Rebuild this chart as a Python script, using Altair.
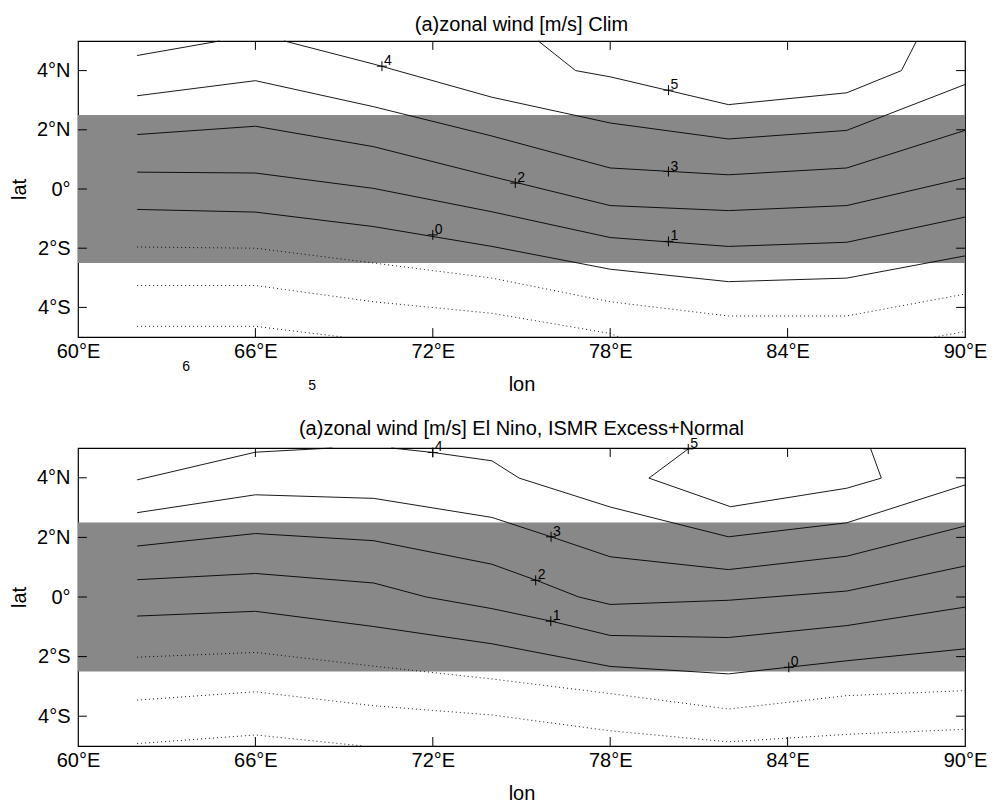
import altair as alt
import pandas as pd

FONT = "Liberation Sans"

# ---------------- data ----------------
lon_ticks = [60, 66, 72, 78, 84, 90]
lon_tick_labels = ["60°E", "66°E", "72°E", "78°E", "84°E", "90°E"]
lat_ticks = [-4, -2, 0, 2, 4]
lat_tick_labels = ["4°S", "2°S", "0°", "2°N", "4°N"]

band_lon = [60, 90]
band_lat = [-2.5, 2.5]

grid_lon = [62, 66, 70, 74, 78, 82, 86, 90]

# panel 1: Clim  (visible contour segments: id, style, lon list, lat list)
clim_contours = [
    ("c1a", "solid", [62, 64.79], [4.51, 5.0]),
    ("c1b", "solid", [66.98, 70, 74, 78, 82, 86, 90], [5.0, 4.22, 3.10, 2.23, 1.69, 1.98, 3.53]),
    ("c2", "solid", grid_lon, [3.15, 3.66, 2.78, 1.79, 0.71, 0.48, 0.71, 1.98]),
    ("c3", "solid", grid_lon, [1.84, 2.12, 1.43, 0.42, -0.56, -0.73, -0.56, 0.37]),
    ("c4", "solid", grid_lon, [0.57, 0.54, 0.02, -0.77, -1.64, -1.94, -1.80, -0.95]),
    ("c5", "solid", grid_lon, [-0.69, -0.78, -1.27, -1.94, -2.71, -3.13, -3.01, -2.26]),
    ("c6", "solid", [75.57, 76.83, 78, 82, 86, 87.85, 88.36],
     [5.0, 4.0, 3.79, 2.85, 3.25, 4.0, 5.0]),
    ("d1", "dotted", grid_lon, [-1.96, -2.00, -2.50, -3.01, -3.81, -4.29, -4.29, -3.55]),
    ("d2a", "dotted", [62, 66, 70, 74, 78, 78.3], [-3.26, -3.26, -3.81, -4.20, -4.88, -5.0]),
    ("d2b", "dotted", [88.97, 90], [-5.0, -4.82]),
    ("d3", "dotted", [62, 66, 68.95], [-4.64, -4.64, -5.0]),
]
clim_label_text = ["4", "5", "3", "2", "1", "0"]
clim_label_lon = [70.28, 79.97, 79.97, 74.79, 79.97, 72.0]
clim_label_lat = [4.15, 3.34, 0.59, 0.20, -1.77, -1.55]
clim_stray_text = ["6", "5"]
clim_stray_lon = [63.66, 67.92]
clim_stray_lat = [-6.02, -6.64]

# panel 2: El Nino, ISMR Excess+Normal
nino_contours = [
    ("c1a", "solid", [62, 66, 68.6], [3.93, 4.86, 5.0]),
    ("c1b", "solid", [70.6, 72, 74, 74.92, 78, 82, 86, 90],
     [5.0, 4.85, 4.57, 3.99, 3.02, 2.02, 2.49, 3.76]),
    ("c2", "solid", [62, 66, 70, 74, 76, 78, 82, 86, 90],
     [2.83, 3.43, 3.31, 2.67, 2.02, 1.35, 0.92, 1.37, 2.38]),
    ("c3", "solid", [62, 66, 70, 74, 75.5, 76.94, 78, 82, 86, 90],
     [1.71, 2.13, 1.89, 1.10, 0.56, 0.0, -0.25, -0.11, 0.20, 1.04]),
    ("c4", "solid", [62, 66, 70, 71.78, 74, 76, 78, 82, 86, 90],
     [0.58, 0.79, 0.47, 0.0, -0.39, -0.81, -1.29, -1.36, -0.96, -0.34]),
    ("c5", "solid", grid_lon, [-0.64, -0.48, -0.99, -1.57, -2.33, -2.58, -2.14, -1.74]),
    ("c6", "solid", [80.68, 79.31, 82.07, 86.0, 87.17, 86.8],
     [5.0, 3.99, 3.03, 3.65, 3.99, 5.0]),
    ("d1", "dotted", grid_lon, [-2.02, -1.86, -2.32, -2.75, -3.24, -3.76, -3.31, -3.14]),
    ("d2", "dotted", grid_lon, [-3.46, -3.18, -3.65, -3.96, -4.49, -4.86, -4.61, -4.44]),
    ("d3", "dotted", [62, 66, 69.65], [-4.92, -4.63, -5.0]),
]
nino_label_text = ["4", "5", "3", "2", "1", "0"]
nino_label_lon = [72.0, 80.64, 76.0, 75.48, 75.99, 84.04]
nino_label_lat = [4.85, 4.97, 2.02, 0.56, -0.81, -2.36]

TICK_LEN = 0.3  # inward tick length, in degrees

# ---------------- helpers ----------------
x_label_expr = "{" + ",".join(f"'{v}':'{t}'" for v, t in zip(lon_ticks, lon_tick_labels)) + "}[datum.value]"
y_label_expr = "{" + ",".join(f"'{v}':'{t}'" for v, t in zip(lat_ticks, lat_tick_labels)) + "}[datum.value]"

xscale = alt.Scale(domain=[60, 90], nice=False, zero=False)
yscale = alt.Scale(domain=[-5, 5], nice=False, zero=False)
xaxis = alt.Axis(values=lon_ticks, labelExpr=x_label_expr, title="lon", labelFlush=False)
yaxis = alt.Axis(values=lat_ticks, labelExpr=y_label_expr, title="lat", labelFlush=False)


def X(field):
    return alt.X(field, scale=xscale, axis=xaxis, title="lon")


def Y(field):
    return alt.Y(field, scale=yscale, axis=yaxis, title="lat")


def contour_df(contours):
    rows = []
    for cid, style, lons, lats in contours:
        for i, (lo, la) in enumerate(zip(lons, lats)):
            rows.append({"cid": cid, "style": style, "ord": i, "lon": lo, "lat": la})
    return pd.DataFrame(rows)


def tick_df():
    rows = []
    for v in lon_ticks[1:-1]:
        rows.append({"lon": v, "lon2": v, "lat": -5, "lat2": -5 + TICK_LEN})
        rows.append({"lon": v, "lon2": v, "lat": 5, "lat2": 5 - TICK_LEN})
    for v in lat_ticks:
        rows.append({"lon": 60, "lon2": 60 + TICK_LEN, "lat": v, "lat2": v})
        rows.append({"lon": 90, "lon2": 90 - TICK_LEN, "lat": v, "lat2": v})
    return pd.DataFrame(rows)


def panel(title, contours, ltext, llon, llat, stext=None, slon=None, slat=None,
          title_offset=8, height=296):
    band = alt.Chart(pd.DataFrame({"lon": [band_lon[0]], "lon2": [band_lon[1]],
                                   "lat": [band_lat[0]], "lat2": [band_lat[1]]})).mark_rect(
        color="#888888"
    ).encode(x=X("lon:Q"), x2="lon2:Q", y=Y("lat:Q"), y2="lat2:Q")

    cdf = contour_df(contours)
    base = alt.Chart(cdf).encode(
        x=X("lon:Q"), y=Y("lat:Q"), detail="cid:N", order="ord:Q",
    )
    solid = base.transform_filter(alt.datum.style == "solid").mark_line(
        color="black", strokeWidth=0.9)
    dotted = base.transform_filter(alt.datum.style == "dotted").mark_line(
        color="black", strokeWidth=0.9, strokeDash=[1, 3])

    ticks = alt.Chart(tick_df()).mark_rule(color="black", strokeWidth=1).encode(
        x=X("lon:Q"), x2="lon2:Q", y=Y("lat:Q"), y2="lat2:Q",
    )

    ldf = pd.DataFrame({"t": ltext, "lon": llon, "lat": llat})
    lbase = alt.Chart(ldf).encode(x=X("lon:Q"), y=Y("lat:Q"))
    crosses = lbase.mark_point(shape="M-1,0L1,0M0,-1L0,1", size=100, filled=False,
                               color="black", strokeWidth=1, opacity=1)
    texts = lbase.mark_text(align="left", baseline="alphabetic", dx=2, dy=-1,
                            font=FONT, fontSize=14, color="black").encode(text="t:N")

    layers = [band, solid, dotted, ticks, crosses, texts]
    if stext:
        sdf = pd.DataFrame({"t": stext, "lon": slon, "lat": slat})
        stray = alt.Chart(sdf).mark_text(align="center", baseline="middle", font=FONT,
                                         fontSize=14, color="black").encode(
            x=X("lon:Q"), y=Y("lat:Q"), text="t:N",
        )
        layers.append(stray)

    return alt.layer(*layers).properties(
        width=887, height=height,
        title=alt.TitleParams(title, font=FONT, fontSize=20, fontWeight="normal",
                              color="black", anchor="middle", baseline="bottom",
                              offset=title_offset),
    )


top = panel("(a)zonal wind [m/s] Clim", clim_contours,
            clim_label_text, clim_label_lon, clim_label_lat,
            clim_stray_text, clim_stray_lon, clim_stray_lat,
            title_offset=-16, height=296)
bottom = panel("(a)zonal wind [m/s] El Nino, ISMR Excess+Normal", nino_contours,
               nino_label_text, nino_label_lon, nino_label_lat,
               title_offset=-22, height=298)

chart = alt.vconcat(top, bottom, spacing=23).properties(
    padding={"left": 0, "top": 6, "right": 0, "bottom": 0}
).configure_view(
    stroke="black", strokeWidth=1.2
).configure_axis(
    grid=False, domain=False, ticks=False,
    labelFont=FONT, labelFontSize=20, labelColor="black",
    titleFont=FONT, titleFontSize=20, titleColor="black", titleFontWeight="normal",
).configure_axisX(labelPadding=4.5, titlePadding=12.5).configure_axisY(labelPadding=8, titlePadding=7)

chart.save("out.html", embed_options={"renderer": "svg", "actions": False})
